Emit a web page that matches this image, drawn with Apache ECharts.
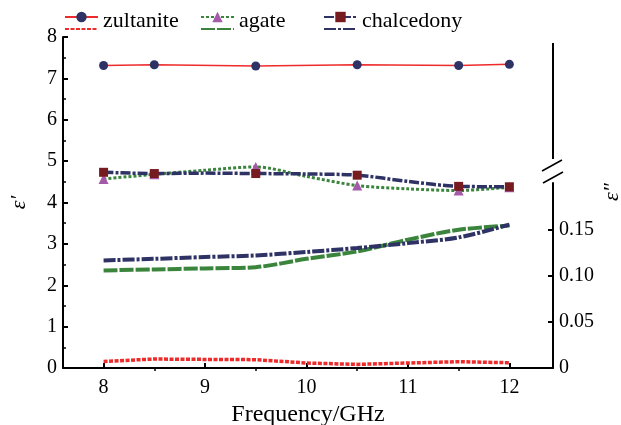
<!DOCTYPE html>
<html>
<head>
<meta charset="utf-8">
<script src="https://cdn.jsdelivr.net/npm/echarts@6/dist/echarts.min.js"></script>
<style>
  html, body { margin: 0; padding: 0; background: #fff; }
  #chart { width: 621px; height: 425px; }
</style>
</head>
<body>
<div id="chart"></div>
<script>
// Fréquences (GHz)
const freqMarkers = [8, 8.5, 9.5, 10.5, 11.5, 12];
const freqCurve = [8, 8.5, 9, 9.5, 10, 10.5, 11, 11.5, 12];

// epsilon' (axe de gauche)
const zultaniteReal = [7.31, 7.33, 7.30, 7.33, 7.31, 7.34];
const agateReal = [4.57, 4.68, 4.78, 4.86, 4.63, 4.41, 4.33, 4.29, 4.37];
const chalcedonyReal = [4.73, 4.70, 4.71, 4.70, 4.69, 4.66, 4.51, 4.39, 4.38];

// epsilon'' (axe de droite)
const zultaniteImag = [0.0071, 0.0097, 0.0093, 0.0090, 0.0054, 0.0039, 0.0054, 0.0068, 0.0057];
const agateImag = [0.1055, 0.1066, 0.1077, 0.1090, 0.1180, 0.1260, 0.1387, 0.1495, 0.1540];
const chalcedonyImag = [0.1163, 0.1180, 0.1200, 0.1217, 0.1254, 0.1297, 0.1350, 0.1412, 0.1550];

const xTicks = [8, 9, 10, 11, 12];
const xMinorTicks = [8.5, 9.5, 10.5, 11.5];
const rightTicks = [0, 0.05, 0.1, 0.15];

const FONT = 'Liberation Serif';
const RED = '#ee2b2b';
const GREEN = '#3a843c';
const NAVY = '#2e3265';
const PURPLE = '#a45aa8';
const MAROON = '#761b20';

// mise en page
const G = { left: 63, right: 68, top: 37, bottom: 57 };
const W = 621, H = 425;
const axisX = W - G.right;
const lowerTop = 183;

let chart;

window.onload = init;

function init() {
    chart = echarts.init(document.getElementById('chart'));
    chart.setOption(buildOptions());
}

// points avec symbole seulement aux fréquences marquées
function withMarkers(xs, ys) {
    return xs.map((x, i) => {
        if (freqMarkers.includes(x)) return { value: [x, ys[i]] };
        return { value: [x, ys[i]], symbol: 'none' };
    });
}

function pairs(xs, ys) {
    return xs.map((x, i) => [x, ys[i]]);
}

function legendTop(name, left) {
    return {
        data: [name],
        left: left,
        top: 10,
        padding: 0,
        itemWidth: 33,
        itemHeight: 13,
        itemGap: 0,
        formatter: n => '{t|' + n + '}',
        textStyle: {
            color: '#000',
            rich: { t: { fontFamily: FONT, fontSize: 22, color: '#000', padding: [8, 0, 0, 0] } }
        },
        selectedMode: false
    };
}

function legendBottom(name, left) {
    return {
        data: [name],
        left: left,
        top: 23,
        padding: 0,
        itemWidth: 33,
        itemHeight: 12,
        itemStyle: { opacity: 0 },
        textStyle: { fontSize: 10 },
        formatter: () => '',
        selectedMode: false
    };
}

function buildOptions() {
    const xBase = {
        type: 'value',
        min: 7.6,
        max: 12.43,
        splitLine: { show: false }
    };

    return {
        backgroundColor: '#fff',
        animation: false,
        legend: [
            legendTop('zultanite', 64),
            legendTop('agate', 200),
            legendTop('chalcedony', 323),
            legendBottom('zultanite ε″', 64),
            legendBottom('agate ε″', 200),
            legendBottom('chalcedony ε″', 323)
        ],
        grid: [
            { left: G.left, right: G.right, top: G.top, bottom: G.bottom, outerBoundsMode: 'none' },
            { left: G.left, right: G.right, top: lowerTop, bottom: G.bottom, outerBoundsMode: 'none' }
        ],
        xAxis: [
            Object.assign({}, xBase, {
                gridIndex: 0,
                name: 'Frequency/GHz',
                nameLocation: 'middle',
                nameGap: 34,
                nameTextStyle: { fontFamily: FONT, fontSize: 24, color: '#000' },
                axisLine: { onZero: false, lineStyle: { color: '#000', width: 2 } },
                axisTick: { inside: true, length: 5, customValues: xTicks, lineStyle: { color: '#000', width: 2 } },
                axisLabel: { customValues: xTicks, fontFamily: FONT, fontSize: 20, color: '#000', margin: 10 }
            }),
            // ticks mineurs de l'axe des fréquences
            Object.assign({}, xBase, {
                gridIndex: 0,
                axisLine: { show: false },
                axisTick: { inside: true, length: 3, customValues: xMinorTicks, lineStyle: { color: '#000', width: 1.5 } },
                axisLabel: { show: false }
            }),
            Object.assign({}, xBase, {
                gridIndex: 1,
                show: false
            })
        ],
        yAxis: [
            {
                type: 'value',
                gridIndex: 0,
                min: 0,
                max: 8,
                interval: 1,
                name: 'ε′',
                nameLocation: 'middle',
                nameGap: 33,
                nameTextStyle: { fontFamily: FONT, fontStyle: 'italic', fontSize: 22, color: '#000' },
                splitLine: { show: false },
                axisLine: { show: true, lineStyle: { color: '#000', width: 2 } },
                axisTick: { inside: true, length: 5, lineStyle: { color: '#000', width: 2 } },
                minorTick: { show: true, splitNumber: 2, length: 3, lineStyle: { color: '#000', width: 1.5 } },
                axisLabel: { fontFamily: FONT, fontSize: 20, color: '#000', margin: 6 }
            },
            {
                type: 'value',
                gridIndex: 1,
                position: 'right',
                min: 0,
                max: 0.2,
                splitLine: { show: false },
                axisLine: { show: true, lineStyle: { color: '#000', width: 2 } },
                axisTick: { inside: true, length: 5, customValues: rightTicks, lineStyle: { color: '#000', width: 2 } },
                axisLabel: {
                    customValues: rightTicks,
                    fontFamily: FONT, fontSize: 20, color: '#000', margin: 6,
                    formatter: v => v === 0 ? '0' : v.toFixed(2)
                }
            }
        ],
        // haut de l'axe de droite, cassure et nom de l'axe
        graphic: [
            { type: 'line', shape: { x1: axisX, y1: 43, x2: axisX, y2: 159 }, style: { stroke: '#000', lineWidth: 2 } },
            { type: 'line', shape: { x1: axisX - 11, y1: 171, x2: axisX + 9, y2: 160 }, style: { stroke: '#000', lineWidth: 1.5 } },
            { type: 'line', shape: { x1: axisX - 10, y1: 183, x2: axisX + 10, y2: 172 }, style: { stroke: '#000', lineWidth: 1.5 } },
            {
                type: 'text', x: 612, y: 192, rotation: Math.PI / 2,
                style: { text: 'ε″', fontFamily: FONT, fontStyle: 'italic', fontSize: 22, fill: '#000', align: 'center', verticalAlign: 'middle' }
            }
        ],
        series: [
            {
                name: 'zultanite', type: 'line', xAxisIndex: 0, yAxisIndex: 0,
                data: pairs(freqMarkers, zultaniteReal),
                symbol: 'circle', symbolSize: 9,
                itemStyle: { color: NAVY },
                lineStyle: { color: RED, width: 1.5 },
                z: 5
            },
            {
                name: 'agate', type: 'line', xAxisIndex: 0, yAxisIndex: 0,
                data: withMarkers(freqCurve, agateReal),
                smooth: 0.3,
                symbol: 'triangle', symbolSize: 10,
                itemStyle: { color: PURPLE },
                lineStyle: { color: GREEN, width: 3, type: [3, 2] },
                z: 3
            },
            {
                name: 'chalcedony', type: 'line', xAxisIndex: 0, yAxisIndex: 0,
                data: withMarkers(freqCurve, chalcedonyReal),
                smooth: 0.3,
                symbol: 'rect', symbolSize: 9,
                itemStyle: { color: MAROON },
                lineStyle: { color: NAVY, width: 3.5, type: [10, 2, 3, 2] },
                z: 4
            },
            {
                name: 'zultanite ε″', type: 'line', xAxisIndex: 2, yAxisIndex: 1,
                data: pairs(freqCurve, zultaniteImag),
                showSymbol: false, symbol: 'none',
                itemStyle: { color: RED },
                lineStyle: { color: RED, width: 3.5, type: [4, 1.5] }
            },
            {
                name: 'agate ε″', type: 'line', xAxisIndex: 2, yAxisIndex: 1,
                data: pairs(freqCurve, agateImag),
                smooth: 0.3, showSymbol: false, symbol: 'none',
                itemStyle: { color: GREEN },
                lineStyle: { color: GREEN, width: 4, type: [14, 2] }
            },
            {
                name: 'chalcedony ε″', type: 'line', xAxisIndex: 2, yAxisIndex: 1,
                data: pairs(freqCurve, chalcedonyImag),
                smooth: 0.3, showSymbol: false, symbol: 'none',
                itemStyle: { color: NAVY },
                lineStyle: { color: NAVY, width: 4, type: [12, 2, 3, 2] }
            }
        ]
    };
}
</script>
</body>
</html>
